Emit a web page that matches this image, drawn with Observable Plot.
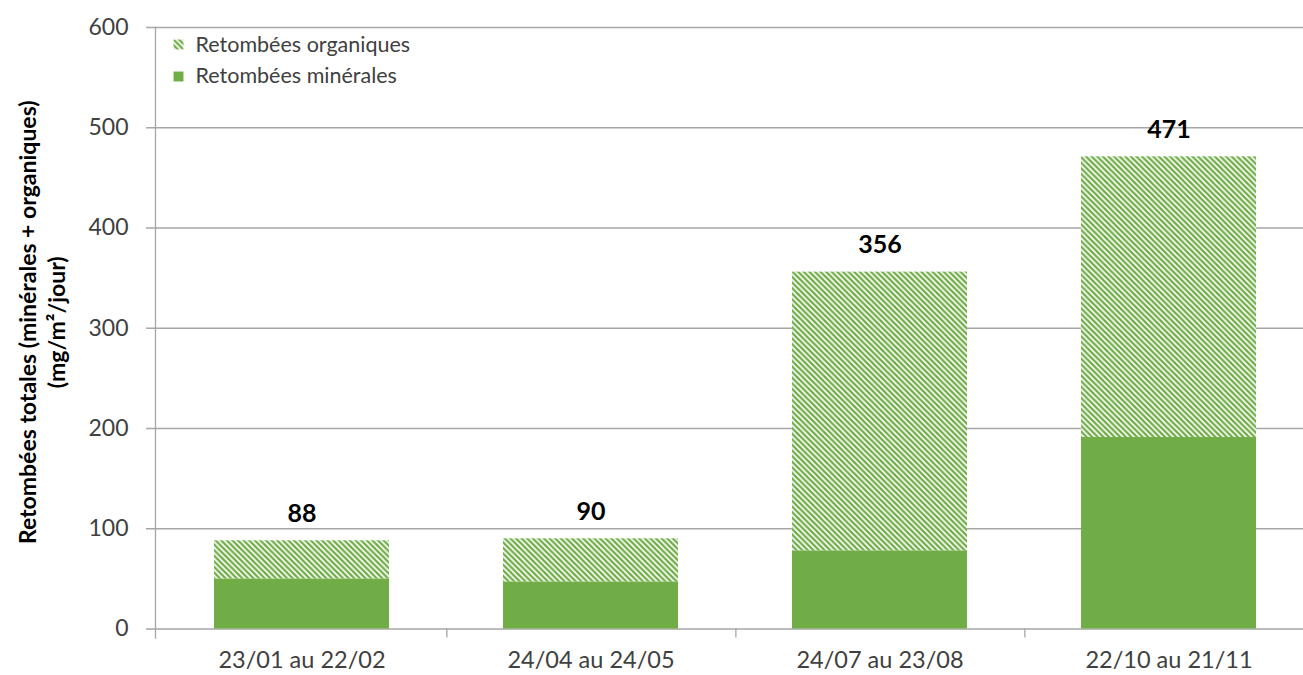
<!DOCTYPE html>
<html>
<head>
<meta charset="utf-8">
<script src="https://cdn.jsdelivr.net/npm/d3@7"></script>
<script src="https://cdn.jsdelivr.net/npm/@observablehq/plot@0.6"></script>
<style>
  html, body { margin: 0; padding: 0; background: #fff; }
  #chart { position: relative; width: 1303px; height: 675px; }
</style>
</head>
<body>
<div id="chart"></div>
<script>
const categories = ["23/01 au 22/02", "24/04 au 24/05", "24/07 au 23/08", "22/10 au 21/11"];
const minerales = [50, 47, 78, 191];
const totales = [88, 90, 356, 471];
const yTicks = [0, 100, 200, 300, 400, 500, 600];
const legendLabels = ["Retombées organiques", "Retombées minérales"];
const yTitle = "Retombées totales (minérales + organiques)\n(mg/m²/jour)";

const green = "#70AD47";
const grid = "#A6A6A6";
const font = "Lato, 'Open Sans', sans-serif";

const rows = categories.map((c, i) => ({cat: c, min: minerales[i], tot: totales[i]}));

const W = 1303, H = 675, ML = 155, MR = -11, MT = 27, MB = 46.5;
const step = (W - ML - MR) / categories.length;

// hatch pattern defs mark
function hatchDefs() {
  const ns = "http://www.w3.org/2000/svg";
  const g = document.createElementNS(ns, "g");
  const defs = document.createElementNS(ns, "defs");
  const p = document.createElementNS(ns, "pattern");
  p.setAttribute("id", "hatch");
  p.setAttribute("patternUnits", "userSpaceOnUse");
  p.setAttribute("width", "5.6");
  p.setAttribute("height", "5.6");
  const bg = document.createElementNS(ns, "rect");
  bg.setAttribute("width", "5.6"); bg.setAttribute("height", "5.6"); bg.setAttribute("fill", "#fff");
  p.appendChild(bg);
  const path = document.createElementNS(ns, "path");
  path.setAttribute("d", "M-1,-1L6.6,6.6M-3.8,1.8L1.8,7.4M3.8,-1.8L7.4,1.8");
  path.setAttribute("stroke", green);
  path.setAttribute("stroke-width", "2.3");
  p.appendChild(path);
  defs.appendChild(p);
  g.appendChild(defs);
  return g;
}

const plot = Plot.plot({
  width: W, height: H,
  marginLeft: ML, marginRight: MR, marginTop: MT, marginBottom: MB,
  style: {fontFamily: font, fontSize: "22px", color: "#404040", background: "#fff"},
  x: {domain: categories, paddingInner: 0.396, paddingOuter: 0.198, label: null},
  y: {domain: [0, 600], label: null},
  marks: [
    hatchDefs,
    Plot.ruleY(yTicks, {y: d => d, stroke: grid, strokeWidth: 1.3, insetLeft: -9}),
    Plot.barY(rows, {x: "cat", y1: 0, y2: "min", fill: green}),
    Plot.barY(rows, {x: "cat", y1: "min", y2: "tot", fill: "url(#hatch)"}),
    Plot.text(rows, {x: "cat", y: "tot", text: d => String(d.tot), dy: -27, fontWeight: "bold", fontSize: 25, fill: "#000"}),
    Plot.axisY(yTicks, {tickSize: 0, tickPadding: 27, fontSize: 23, fill: "#404040", label: null}),
    Plot.axisX({tickSize: 0, tickPadding: 22, fontSize: 23.5, fill: "#404040", label: null}),
    Plot.ruleX(categories, {x: d => d, y1: () => 0, y2: () => 0, insetBottom: -9, dx: step / 2, stroke: grid, strokeWidth: 1.3}),
    Plot.frame({anchor: "left", stroke: grid, strokeWidth: 1.3, insetBottom: -9}),
    // legend
    Plot.dot([0], {frameAnchor: "top-left", symbol: "square", r: 5.6, fill: "url(#hatch)", dx: 23, dy: 17}),
    Plot.dot([0], {frameAnchor: "top-left", symbol: "square", r: 5.6, fill: green, dx: 23, dy: 49}),
    Plot.text([legendLabels[0]], {frameAnchor: "top-left", text: d => d, textAnchor: "start", lineAnchor: "middle", dx: 40, dy: 18, fontSize: 21.5, fill: "#404040"}),
    Plot.text([legendLabels[1]], {frameAnchor: "top-left", text: d => d, textAnchor: "start", lineAnchor: "middle", dx: 40, dy: 49, fontSize: 21.5, fill: "#404040"}),
    // y title
    Plot.text([yTitle], {frameAnchor: "left", text: d => d, rotate: -90, textAnchor: "middle", dx: -114, dy: -6, fontWeight: "bold", fontSize: 23, lineHeight: 1.25, fill: "#000"})
  ]
});

document.getElementById("chart").appendChild(plot);
</script>
</body>
</html>
